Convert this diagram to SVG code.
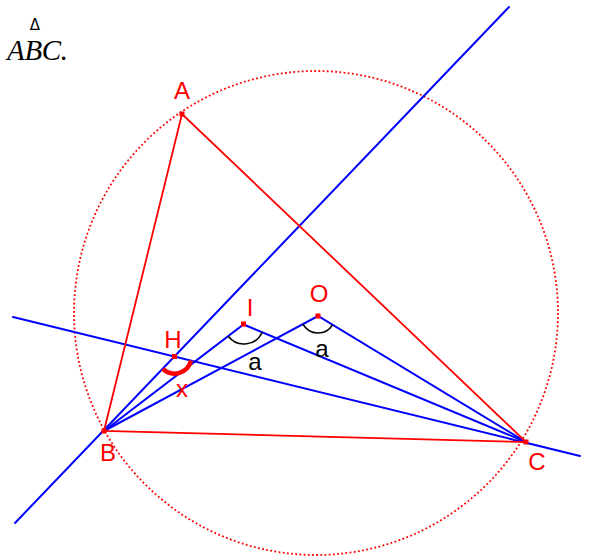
<svg xmlns="http://www.w3.org/2000/svg" width="589" height="559" viewBox="0 0 589 559">
<style>
.blue{stroke:#0000ff;stroke-width:2;fill:none;stroke-linecap:round}
.red{stroke:#ff0000;stroke-width:1.8;fill:none}
.pt{fill:#ff0000}
.lbl{font-family:"Liberation Sans",Arial,sans-serif;font-size:24px;fill:#ff0000;text-anchor:middle}
.lblk{font-family:"Liberation Sans",Arial,sans-serif;font-size:24px;fill:#000000;text-anchor:middle}
.arc{stroke:#000000;stroke-width:1.6;fill:none}
</style>
<rect width="589" height="559" fill="#ffffff"/>
<g id="title">
<text x="7" y="60" font-family="'Liberation Serif','Times New Roman',serif" font-style="italic" font-size="29" fill="#000" textLength="61" lengthAdjust="spacing">ABC.</text>
<text x="35" y="30" font-family="'DejaVu Sans',sans-serif" font-size="15" fill="#000" text-anchor="middle">Δ</text>
</g>
<g id="circle">
<circle cx="316" cy="313" r="242" fill="none" stroke="#ff0000" stroke-width="1.8" stroke-dasharray="1.8 2.4"/>
</g>
<g id="connectors">
<line class="blue" x1="15" y1="523" x2="509" y2="7"/>
<line class="blue" x1="13" y1="317" x2="580" y2="456"/>
<polyline class="blue" points="104,431 243.5,324.5 526,442"/>
<polyline class="blue" points="104,431 318,316 526,442"/>
<polygon class="red" points="182,114 104,431 526,442"/>
</g>
<g id="angles">
<path d="M262.4,331.7 A20,20 0 0 1 228.2,336.3" class="arc"/>
<path d="M332.5,324.8 A17,17 0 0 1 303,324.1" class="arc"/>
<path d="M191,360.5 A17,17 0 0 1 162.8,368.9" fill="none" stroke="#ff0000" stroke-width="4.5"/>
</g>
<g id="A"><rect class="pt" x="179.5" y="111.5" width="5" height="5"/><text class="lbl" x="182" y="99">A</text></g>
<g id="B"><rect class="pt" x="101.5" y="428.5" width="5" height="5"/><text class="lbl" x="108" y="461">B</text></g>
<g id="C"><rect class="pt" x="523.5" y="439.5" width="5" height="5"/><text class="lbl" x="537" y="470">C</text></g>
<g id="H"><rect class="pt" x="172" y="354" width="5" height="5"/><text class="lbl" x="173" y="348">H</text><text class="lbl" x="182" y="397">x</text></g>
<g id="I"><rect class="pt" x="241" y="321.5" width="5" height="5"/><text class="lbl" x="250" y="316">I</text><text class="lblk" x="255" y="370">a</text></g>
<g id="O"><rect class="pt" x="315.5" y="313.5" width="5" height="5"/><text class="lbl" x="319" y="302">O</text><text class="lblk" x="322" y="357">a</text></g>
</svg>
